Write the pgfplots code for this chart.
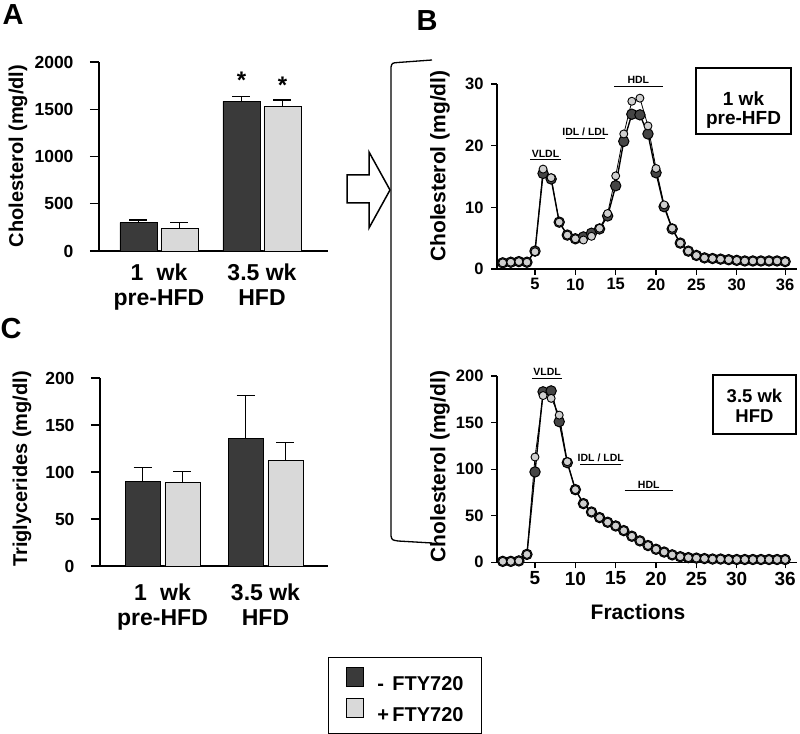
\documentclass[border=0pt]{standalone}
\usepackage{pgfplots}
\pgfplotsset{compat=1.18}
\usepackage{fontspec}
\setmainfont{Liberation Sans}
\definecolor{darkbar}{HTML}{3A3A3A}
\definecolor{lightbar}{HTML}{D9D9D9}
\definecolor{darkmk}{HTML}{454545}
\definecolor{lightmk}{HTML}{CFCFCF}
\newcommand{\fsz}[2]{\fontsize{#1bp}{#2bp}\selectfont\bfseries}

\pgfplotstableread{
x dark light
1 1.0 1.0
2 1.1 1.1
3 1.2 1.2
4 1.1 1.1
5 2.9 2.8
6 15.5 16.2
7 14.6 14.8
8 7.6 7.6
9 5.5 5.5
10 4.9 4.9
11 5.2 4.7
12 5.8 5.3
13 6.5 6.6
14 8.6 9.0
15 13.5 15.1
16 20.7 21.9
17 25.1 27.2
18 25.0 27.7
19 21.9 23.2
20 15.6 16.3
21 10.1 10.4
22 6.5 6.6
23 4.2 4.2
24 2.9 2.9
25 2.2 2.2
26 1.8 1.8
27 1.7 1.7
28 1.6 1.6
29 1.5 1.5
30 1.4 1.4
31 1.3 1.3
32 1.3 1.3
33 1.3 1.3
34 1.3 1.3
35 1.3 1.3
36 1.2 1.2
}\pretable

\pgfplotstableread{
x dark light
1 1.0 1.0
2 1.0 1.0
3 1.5 1.5
4 8.5 8.5
5 97 113
6 183 179
7 184 176
8 151 158
9 107 108
10 78 78
11 63 63
12 54 54
13 48 48
14 43 43
15 39 39
16 34 34
17 28 28
18 23 23
19 18 18
20 14 14
21 11 11
22 8 8
23 6 6
24 5 5
25 4.5 4.5
26 4 4
27 3.5 3.5
28 3.5 3.5
29 3 3
30 3 3
31 3 3
32 3 3
33 3 3
34 3 3
35 3 3
36 3 3
}\hfdtable

\tikzset{
  reg/.style={line width=1bp},
  regl/.style={above, font=\fsz{10.5}{12}, inner sep=2bp},
}

\pgfplotsset{
  common/.style={
    scale only axis,
    axis lines*=left,
    axis line style={-, line width=1.2bp, black},
    tick align=outside,
    tick style={line width=1.1bp, black},
    /pgf/number format/assume math mode=true,
    /pgf/number format/1000 sep={},
    scaled ticks=false,
    clip=false,
  },
  barax/.style={common,
    major tick length=9bp,
    xtick={1,2},
    xticklabels={{1\hspace{0.3em} wk\\pre-HFD},{3.5 wk\\HFD}},
    xticklabel style={font=\fsz{23}{25}, align=center},
    yticklabel style={font=\fsz{17.5}{18}, xshift=-13bp},
    xtick style={draw=none},
    ymin=0,
  },
  bars/.style={ybar, bar width=37bp, bar shift=0pt, draw=black, line width=0.9bp, forget plot},
  errs/.style={error bars/.cd, y dir=plus, y explicit, error mark=|,
    error bar style={line width=1.1bp, black},
    error mark options={line width=1.1bp, black, mark size=9bp}},
  fracax/.style={common,
    major tick length=6bp,
    xmin=0.29, xmax=37.47, ymin=0,
    xtick={5,10,15,20,25,30,36},
    yticklabel style={font=\fsz{16.5}{18}, xshift=-4bp},
  },
  darkser/.style={black, line width=1.4bp, mark=*, mark size=5.2bp, mark options={fill=darkmk, draw=black, line width=1bp}},
  lightser/.style={black, line width=0.8bp, mark=*, mark size=4bp, mark options={fill=lightmk, draw=black, line width=0.9bp}},
}

\begin{document}
\begin{tikzpicture}[x=1bp,y=1bp]
\path[use as bounding box] (0bp,0bp) rectangle (800bp,734bp);

% ---------- Panel A ----------
\begin{axis}[barax,
  at={(99bp,483bp)}, anchor=south west, width=229bp, height=189bp,
  xmin=0.4175, xmax=2.641, ymax=2000,
  ytick={0,500,1000,1500,2000},
  ylabel={Cholesterol (mg/dl)},
  every axis y label/.style={at={(axis description cs:-0.354,0.503)}, rotate=90, anchor=center, font=\fsz{20}{22}},
]
% bars at group 1 and 2, offset by -/+0.199 (= 20.5 bp)
\addplot[bars, fill=darkbar, errs] coordinates {(0.801,300) +- (0,28) (1.801,1584) +- (0,49)};
\addplot[bars, fill=lightbar, errs] coordinates {(1.199,240) +- (0,60) (2.199,1527) +- (0,71)};
\node[font=\fsz{24}{24}, yshift=-5bp] at (axis cs:1.801,1862) {*};
\node[font=\fsz{24}{24}, yshift=-5bp] at (axis cs:2.199,1810) {*};
\end{axis}

% ---------- Panel C ----------
\begin{axis}[barax,
  at={(100bp,168bp)}, anchor=south west, width=228bp, height=188bp,
  xmin=0.393, xmax=2.607, ymax=200,
  ytick={0,50,100,150,200},
  xticklabel style={yshift=-5bp},
  ylabel={Triglycerides (mg/dl)},
  every axis y label/.style={at={(axis description cs:-0.342,0.516)}, rotate=90, anchor=center, font=\fsz{20}{22}},
  legend image code/.code={\draw[#1] (0bp,-2.5bp) rectangle (17bp,16.5bp);},
  legend cell align=left,
  legend style={at={(axis description cs:1.0,-0.484)}, anchor=north west, draw=black, line width=1bp,
    font=\fsz{20}{22}, inner xsep=17bp, inner ysep=10bp, row sep=5bp, nodes={inner sep=1bp}},
]
\addplot[bars, bar width=35bp, fill=darkbar, errs] coordinates {(0.806,90) +- (0,15) (1.806,136) +- (0,45)};
\addplot[bars, bar width=35bp, fill=lightbar, errs] coordinates {(1.194,89) +- (0,12) (2.194,112.5) +- (0,18.5)};
\addlegendimage{fill=darkbar, draw=black, line width=0.9bp}
\addlegendentry{\hspace{13bp}\makebox[15bp][l]{-}FTY720}
\addlegendimage{fill=lightbar, draw=black, line width=0.9bp}
\addlegendentry{\hspace{13bp}\makebox[15bp][l]{+}FTY720}
\end{axis}

% ---------- Panel B top ----------
\begin{axis}[fracax,
  at={(497bp,465bp)}, anchor=south west, width=300bp, height=185bp,
  ymax=30, ytick={0,10,20,30},
  xticklabel style={font=\fsz{16.5}{18}},
  ylabel={Cholesterol (mg/dl)},
  every axis y label/.style={at={(axis description cs:-0.19,0.556)}, rotate=90, anchor=center, font=\fsz{21}{22}},
]
\addplot[darkser] table[x=x, y=dark] {\pretable};
\addplot[lightser] table[x=x, y=light] {\pretable};
\draw[reg] (axis cs:4.4,17.7) -- node[regl]{VLDL} (axis cs:8.2,17.7);
\draw[reg] (axis cs:8.8,21.2) -- node[regl]{IDL / LDL} (axis cs:13.7,21.2);
\draw[reg] (axis cs:14.8,29.6) -- node[regl]{HDL} (axis cs:20.8,29.6);
\end{axis}

% ---------- Panel B bottom ----------
\begin{axis}[fracax,
  at={(497bp,171.7bp)}, anchor=south west, width=300bp, height=186.3bp,
  ymax=200, ytick={0,50,100,150,200},
  xticklabel style={font=\fsz{19}{20}},
  ylabel={Cholesterol (mg/dl)},
  every axis y label/.style={at={(axis description cs:-0.19,0.514)}, rotate=90, anchor=center, font=\fsz{21}{22}},
  xlabel={Fractions},
  every axis x label/.style={at={(axis description cs:0.47,-0.265)}, anchor=center, font=\fsz{21}{22}},
]
\addplot[darkser] table[x=x, y=dark] {\hfdtable};
\addplot[lightser] table[x=x, y=light] {\hfdtable};
\draw[reg] (axis cs:4.6,197.5) -- node[regl]{VLDL} (axis cs:8.4,197.5);
\draw[reg] (axis cs:10.6,105) -- node[regl]{IDL / LDL} (axis cs:15.7,105);
\draw[reg] (axis cs:16.1,77) -- node[regl]{HDL} (axis cs:22.1,77);
\end{axis}

% ---------- boxes in B ----------
\draw[line width=1.1bp] (696bp,600bp) rectangle (791bp,666bp);
\node[align=center, font=\fsz{19}{18.5}] at (743.5bp,624bp) {1 wk\\pre-HFD};
\draw[line width=1.1bp] (713bp,300bp) rectangle (796bp,359bp);
\node[align=center, font=\fsz{18.5}{20}] at (754.5bp,328bp) {3.5 wk\\HFD};

% ---------- bracket and arrow ----------
\draw[line width=1.3bp] (432bp,674bp) -- (398bp,671.5bp) .. controls (392bp,671bp) .. (391bp,667bp)
  -- (391bp,198bp) .. controls (392bp,194bp) .. (398bp,193bp) -- (432bp,191bp);
\draw[line width=1.5bp, fill=white] (347bp,559bp) -- (369bp,559bp) -- (369bp,582bp) -- (390bp,544bp)
  -- (369bp,506bp) -- (369bp,531bp) -- (347bp,531bp) -- cycle;

% ---------- panel letters ----------
\node[font=\fsz{29}{30}] at (13bp,719bp) {A};
\node[font=\fsz{29}{30}] at (427bp,713bp) {B};
\node[font=\fsz{29}{30}] at (11bp,405bp) {C};
\end{tikzpicture}
\end{document}
